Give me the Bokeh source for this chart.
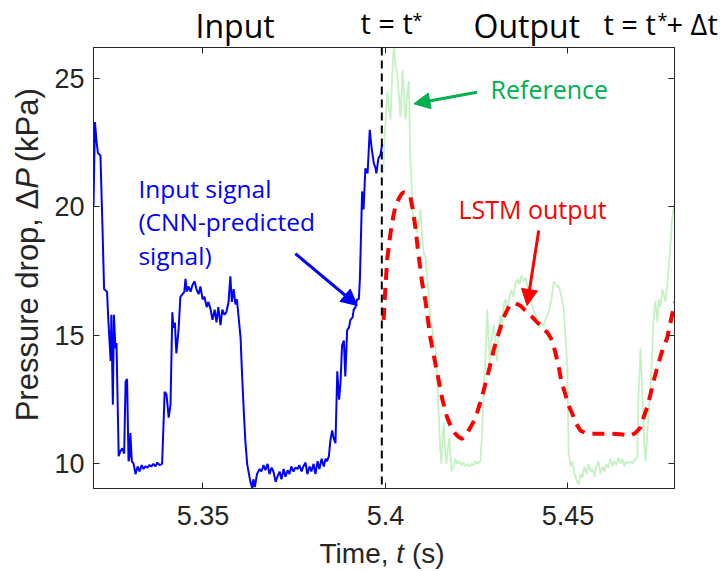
import math
from bokeh.plotting import figure
from bokeh.layouts import column, row
from bokeh.models import (Range1d, FixedTicker, LinearAxis, Span, Label, Arrow, NormalHead)
from bokeh.embed import file_html
from bokeh.resources import INLINE

# ---------------- data ----------------
input_t = [5.3200, 5.3204, 5.3208, 5.3212, 5.3219, 5.3225, 5.3229, 5.3237, 5.3241, 5.3247,
           5.3249, 5.3253, 5.3256, 5.3260, 5.3263, 5.3266, 5.3269, 5.3274, 5.3279, 5.3284,
           5.3288, 5.3292, 5.3296, 5.3299, 5.3301, 5.3305, 5.3310, 5.3315, 5.3321, 5.3326,
           5.3332, 5.3337, 5.3342, 5.3348, 5.3353, 5.3359, 5.3364, 5.3370, 5.3375, 5.3381,
           5.3388, 5.3395, 5.3400, 5.3406, 5.3411, 5.3416, 5.3419, 5.3423, 5.3427, 5.3433,
           5.3438, 5.3444, 5.3449, 5.3452, 5.3456, 5.3460, 5.3466, 5.3471, 5.3477, 5.3482,
           5.3488, 5.3493, 5.3499, 5.3504, 5.3510, 5.3515, 5.3521, 5.3526, 5.3532, 5.3537,
           5.3542, 5.3548, 5.3553, 5.3559, 5.3564, 5.3570, 5.3575, 5.3579, 5.3584, 5.3589,
           5.3593, 5.3597, 5.3603, 5.3607, 5.3612, 5.3616, 5.3621, 5.3626, 5.3630, 5.3635,
           5.3638, 5.3642, 5.3648, 5.3655, 5.3660, 5.3666, 5.3671, 5.3677, 5.3682, 5.3688,
           5.3693, 5.3699, 5.3704, 5.3710, 5.3715, 5.3721, 5.3726, 5.3732, 5.3737, 5.3742,
           5.3748, 5.3753, 5.3759, 5.3764, 5.3770, 5.3775, 5.3781, 5.3786, 5.3792, 5.3797,
           5.3803, 5.3808, 5.3814, 5.3819, 5.3825, 5.3831, 5.3836, 5.3840, 5.3845, 5.3849,
           5.3854, 5.3858, 5.3863, 5.3868, 5.3873, 5.3877, 5.3881, 5.3886, 5.3890, 5.3895,
           5.3900, 5.3904, 5.3910, 5.3913, 5.3918, 5.3922, 5.3927, 5.3930, 5.3936, 5.3940,
           5.3945, 5.3951, 5.3957, 5.3962, 5.3968, 5.3973, 5.3975, 5.3981, 5.3986, 5.3991]
input_p = [20.0, 23.3, 22.6, 22.1, 22.0, 19.0, 16.8, 16.7, 15.5, 14.0,
           15.8, 12.3, 15.8, 14.5, 14.7, 12.5, 10.3, 10.5, 10.6, 10.4,
           13.2, 13.3, 10.1, 10.3, 11.2, 10.1, 10.0, 9.6, 9.9, 9.7,
           9.95, 9.8, 9.9, 9.85, 9.95, 9.9, 10.0, 9.9, 10.05, 9.95,
           10.0, 12.8, 12.7, 11.8, 12.3, 15.9, 15.3, 15.5, 14.3, 15.2,
           16.5, 16.6, 16.7, 17.2, 16.7, 16.9, 16.7, 16.95, 17.1, 16.8,
           16.6, 16.9, 16.4, 16.5, 16.1, 16.3, 16.0, 15.6, 16.0, 15.5,
           16.1, 15.4, 16.0, 15.8, 15.9, 16.3, 17.3, 16.3, 16.8, 16.2,
           16.4, 15.8, 14.9, 13.5, 12.0, 10.9, 10.0, 9.6, 9.3, 9.05,
           9.4, 9.1, 9.6, 9.8, 9.7, 9.95, 9.75, 10.0, 9.6, 9.85,
           9.7, 9.3, 9.5, 9.7, 9.4, 9.8, 9.5, 9.75, 9.6, 9.9,
           9.7, 9.85, 9.8, 9.95, 9.7, 9.9, 10.05, 9.6, 9.9, 9.7,
           10.0, 9.6, 10.1, 9.8, 10.2, 9.9, 10.2, 10.1, 10.3, 10.9,
           11.3, 11.0, 10.8, 13.6, 12.5, 13.2, 14.6, 14.8, 13.4, 15.2,
           15.3, 15.6, 15.7, 16.0, 16.1, 16.4, 16.4, 17.2, 20.6, 19.9,
           21.5, 21.3, 23.0, 22.3, 21.7, 21.5, 21.3, 21.9, 22.0, 22.45]

ref_t = [5.3994, 5.3997, 5.4005, 5.4008, 5.4014, 5.4018, 5.4023, 5.4027, 5.4032, 5.4037,
         5.4041, 5.4047, 5.4052, 5.4055, 5.4059, 5.4064, 5.4068, 5.4076, 5.4081, 5.4087,
         5.4092, 5.4096, 5.4100, 5.4105, 5.4110, 5.4114, 5.4118, 5.4123, 5.4129, 5.4133,
         5.4137, 5.4141, 5.4146, 5.4149, 5.4153, 5.4156, 5.4160, 5.4163, 5.4167, 5.4171,
         5.4175, 5.4181, 5.4186, 5.4192, 5.4197, 5.4203, 5.4208, 5.4214, 5.4219, 5.4225,
         5.4230, 5.4236, 5.4241, 5.4247, 5.4252, 5.4260, 5.4264, 5.4269, 5.4274, 5.4279,
         5.4282, 5.4286, 5.4290, 5.4297, 5.4301, 5.4306, 5.4311, 5.4315, 5.4319, 5.4324,
         5.4329, 5.4334, 5.4340, 5.4345, 5.4351, 5.4356, 5.4362, 5.4367, 5.4373, 5.4378,
         5.4384, 5.4389, 5.4395, 5.4400, 5.4405, 5.4411, 5.4416, 5.4422, 5.4427, 5.4433,
         5.4438, 5.4444, 5.4449, 5.4455, 5.4461, 5.4466, 5.4471, 5.4475, 5.4479, 5.4485,
         5.4489, 5.4493, 5.4498, 5.4502, 5.4507, 5.4512, 5.4518, 5.4525, 5.4530, 5.4534,
         5.4540, 5.4545, 5.4551, 5.4556, 5.4562, 5.4567, 5.4573, 5.4578, 5.4584, 5.4589,
         5.4595, 5.4600, 5.4605, 5.4611, 5.4616, 5.4622, 5.4627, 5.4633, 5.4638, 5.4644,
         5.4649, 5.4655, 5.4660, 5.4666, 5.4671, 5.4677, 5.4682, 5.4690, 5.4693, 5.4699,
         5.4703, 5.4708, 5.4712, 5.4716, 5.4721, 5.4726, 5.4730, 5.4734, 5.4740, 5.4745,
         5.4749, 5.4753, 5.4759, 5.4762, 5.4767, 5.4772, 5.4775, 5.4781, 5.4785, 5.4790,
         5.4795]
ref_p = [21.3, 22.5, 24.5, 24.0, 23.4, 25.0, 26.3, 25.5, 25.2, 24.3,
         23.5, 25.3, 24.0, 23.4, 24.3, 24.9, 21.9, 19.6, 19.2, 19.0,
         19.5, 19.9, 18.9, 18.2, 18.0, 17.3, 16.7, 15.6, 15.2, 14.7,
         14.5, 13.5, 12.0, 10.8, 10.0, 11.0, 11.6, 10.6, 10.0, 10.6,
         11.0, 9.7, 9.9, 10.2, 10.0, 10.1, 9.95, 10.05, 9.9, 10.0,
         9.9, 10.0, 9.95, 10.1, 10.0, 10.1, 11.0, 12.6, 14.2, 16.0,
         15.0, 13.9, 14.8, 15.4, 14.9, 14.0, 15.3, 15.8, 15.2, 16.2,
         16.4, 16.0, 16.5, 16.75, 16.5, 17.0, 17.2, 17.0, 17.35, 17.1,
         17.25, 16.9, 16.6, 16.3, 16.0, 15.8, 15.5, 15.3, 15.5, 15.35,
         15.6, 15.8, 16.0, 16.4, 17.1, 17.0, 16.9, 16.9, 16.7, 16.3,
         16.0, 15.0, 13.9, 10.4, 9.9, 10.1, 9.6, 9.3, 9.2, 9.6,
         9.45, 9.9, 9.6, 10.0, 9.7, 9.8, 9.5, 9.9, 10.1, 9.6,
         9.9, 9.7, 10.0, 9.85, 10.2, 9.9, 10.1, 9.95, 10.25, 10.0,
         10.2, 9.9, 10.1, 10.0, 10.1, 10.0, 10.15, 10.25, 12.5, 14.5,
         13.0, 11.3, 10.1, 10.8, 11.95, 13.0, 14.0, 15.5, 16.35, 15.5,
         16.4, 16.1, 16.8, 16.6, 16.3, 16.9, 17.5, 18.5, 19.5, 20.0,
         20.2]

lstm_t = [5.3995, 5.4000, 5.4005, 5.4014, 5.4021, 5.4027, 5.4036, 5.4044, 5.4050, 5.4058,
          5.4068, 5.4075, 5.4082, 5.4090, 5.4101, 5.4110, 5.4123, 5.4134, 5.4146, 5.4156,
          5.4169, 5.4181, 5.4192, 5.4200, 5.4210, 5.4219, 5.4228, 5.4238, 5.4247, 5.4258,
          5.4269, 5.4279, 5.4288, 5.4296, 5.4306, 5.4315, 5.4324, 5.4334, 5.4342, 5.4356,
          5.4370, 5.4381, 5.4393, 5.4403, 5.4416, 5.4425, 5.4433, 5.4444, 5.4457, 5.4466,
          5.4475, 5.4482, 5.4493, 5.4501, 5.4512, 5.4521, 5.4534, 5.4548, 5.4562, 5.4589,
          5.4616, 5.4644, 5.4671, 5.4685, 5.4699, 5.4707, 5.4717, 5.4726, 5.4735, 5.4744,
          5.4753, 5.4762, 5.4772, 5.4778, 5.4786, 5.4795]
lstm_p = [15.6, 16.9, 18.0, 19.0, 19.6, 20.0, 20.3, 20.5, 20.57, 20.55,
          20.4, 19.9, 19.2, 18.2, 17.0, 16.3, 14.9, 14.1, 13.24, 12.5,
          11.8, 11.4, 11.17, 11.05, 10.97, 11.1, 11.3, 11.55, 11.8, 12.3,
          12.85, 13.4, 13.9, 14.4, 14.9, 15.3, 15.7, 16.0, 16.2, 16.25,
          16.15, 16.0, 15.85, 15.7, 15.5, 15.4, 15.26, 15.1, 14.8, 14.3,
          13.76, 13.2, 12.7, 12.3, 11.95, 11.6, 11.3, 11.2, 11.17, 11.17,
          11.17, 11.15, 11.1, 11.2, 11.42, 11.8, 12.2, 12.7, 13.24, 13.7,
          14.15, 14.55, 14.9, 15.3, 15.84, 16.3]

t_star = 5.399
x_ticks = [5.35, 5.4, 5.45]
x_tick_labels = ["5.35", "5.4", "5.45"]
y_ticks = [10, 15, 20, 25]

# ---------------- styles ----------------
AX = "#262626"
TICK_FONT = "Liberation Sans"
ANN_FONT = "Open Sans"
BLUE = "#0000ff"
GREEN = "#00b050"
RED = "#ff0000"


def strip(w, h):
    f = figure(width=w, height=h, output_backend="svg", toolbar_location=None,
               x_range=Range1d(0, w), y_range=Range1d(0, h),
               min_border=0, x_axis_location=None, y_axis_location=None)
    f.grid.visible = False
    f.outline_line_color = None
    f.background_fill_color = "white"
    f.border_fill_color = "white"
    return f


def lab(fig, x, y, text, color, size, font=ANN_FONT, style="normal", align="left", angle=0.0):
    fig.add_layout(Label(x=x, y=y, text=text, text_color=color, text_font=font,
                         text_font_size=size, text_font_style=style, text_align=align,
                         text_baseline="alphabetic", angle=angle))


# ---------------- main plot ----------------
p = figure(width=677, height=490, output_backend="svg", toolbar_location=None,
           x_range=Range1d(5.32, 5.4792), y_range=Range1d(9.04, 26.2),
           min_border_left=45, min_border_right=51, min_border_top=1, min_border_bottom=48,
           x_axis_location=None, y_axis_location=None)
p.grid.visible = False
p.background_fill_color = "white"
p.border_fill_color = "white"
p.outline_line_color = AX
p.outline_line_width = 1


def style_axis(ax, show_labels):
    ax.major_tick_in = 6
    ax.major_tick_out = 0
    ax.minor_tick_in = 0
    ax.minor_tick_out = 0
    ax.axis_line_color = AX
    ax.major_tick_line_color = AX
    ax.major_label_text_font = TICK_FONT
    if show_labels:
        ax.major_label_text_color = AX
        ax.major_label_text_font_size = "27px"
    else:
        ax.major_label_text_color = None
        ax.major_label_text_font_size = "1px"
        ax.major_label_standoff = 0


xb = LinearAxis(ticker=FixedTicker(ticks=x_ticks),
                major_label_overrides={t: s for t, s in zip(x_ticks, x_tick_labels)})
style_axis(xb, True)
xb.major_label_standoff = 17
p.add_layout(xb, "below")

yl = LinearAxis(ticker=FixedTicker(ticks=y_ticks))
style_axis(yl, True)
yl.major_label_standoff = 9
p.add_layout(yl, "left")

xt = LinearAxis(ticker=FixedTicker(ticks=x_ticks))
style_axis(xt, False)
p.add_layout(xt, "above")

yr = LinearAxis(ticker=FixedTicker(ticks=y_ticks))
style_axis(yr, False)
p.add_layout(yr, "right")

p.line(ref_t, ref_p, line_color="#c4f2c4", line_width=1.8)
p.line(input_t, input_p, line_color=BLUE, line_width=2)
p.add_layout(Span(location=t_star, dimension="height", line_color="black",
                  line_width=2, line_dash="8 5"))
p.line(lstm_t, lstm_p, line_color=RED, line_width=4, line_dash="12 8")

lab(p, 5.3323, 20.71, "Input signal", BLUE, "24.5px")
lab(p, 5.3323, 19.41, "(CNN-predicted", BLUE, "24.5px")
lab(p, 5.3323, 18.11, "signal)", BLUE, "24.5px")
lab(p, 5.4288, 24.59, "Reference", GREEN, "25px")
lab(p, 5.4200, 19.90, "LSTM output", RED, "25px")

for (x0, y0, x1, y1, c) in [(5.3753, 18.18, 5.3923, 16.16, BLUE),
                            (5.4251, 24.46, 5.4078, 24.01, GREEN),
                            (5.4420, 19.08, 5.4388, 16.16, RED)]:
    p.add_layout(Arrow(x_start=x0, y_start=y0, x_end=x1, y_end=y1,
                       line_color=c, line_width=3,
                       end=NormalHead(size=16, fill_color=c, line_color=c, line_width=1)))

# ---------------- strips for texts outside the axes box ----------------
top = strip(725, 46)
lab(top, 195, 21, "Input", "black", "32px")
lab(top, 473, 21, "Output", "black", "32px")
lab(top, 360, 24, "t = t", "black", "29px")
lab(top, 412, 27, "*", "black", "18px")
lab(top, 603, 23, "t = t", "black", "29px")
lab(top, 657, 27, "*", "black", "18px")
lab(top, 666, 23, "+ \u0394t", "black", "29px")

left = strip(48, 490)
lab(left, 26.5, 333.1, "Pressure drop, \u0394", AX, "31px", font=TICK_FONT, align="right", angle=math.pi / 2)
lab(left, 26.5, 333.1, "P", AX, "31px", font=TICK_FONT, style="italic", angle=math.pi / 2)
lab(left, 26.5, 362.4, "(kPa)", AX, "31px", font=TICK_FONT, angle=math.pi / 2)

bottom = strip(725, 35)
lab(bottom, 388.0, 18, "Time,", AX, "28px", font=TICK_FONT, align="right")
lab(bottom, 395.8, 18, "t", AX, "28px", font=TICK_FONT, style="italic")
lab(bottom, 411.4, 18, "(s)", AX, "28px", font=TICK_FONT)

layout = column(top, row(left, p, spacing=0), bottom, spacing=0)

open("out.html", "w").write(file_html(layout, INLINE))
